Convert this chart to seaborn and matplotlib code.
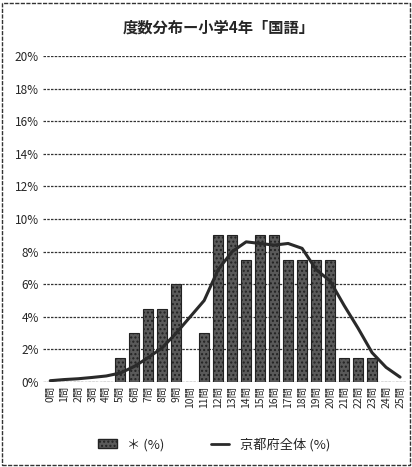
import pandas as pd
import seaborn as sns
import matplotlib.pyplot as plt
from matplotlib.lines import Line2D
from matplotlib.patches import Patch, Rectangle

# data
questions = [f"{i}問" for i in range(26)]
school_pct = [0, 0, 0, 0, 0, 1.5, 3.0, 4.5, 4.5, 6.0, 0, 3.0, 9.0, 9.0, 7.5,
              9.0, 9.0, 7.5, 7.5, 7.5, 7.5, 1.5, 1.5, 1.5, 0, 0]
kyoto_pct = [0.08, 0.15, 0.2, 0.28, 0.37, 0.55, 0.95, 1.5, 2.1, 3.0, 4.0, 5.0, 6.9,
             8.0, 8.6, 8.5, 8.4, 8.5, 8.2, 6.9, 6.2, 4.7, 3.3, 1.8, 0.9, 0.3]
y_ticks = [0, 2, 4, 6, 8, 10, 12, 14, 16, 18, 20]

df = pd.DataFrame({"q": questions, "school": school_pct, "kyoto": kyoto_pct})
df["pos"] = range(len(df))

sns.set_style("white")
plt.rcParams['font.family'] = ['Noto Sans CJK JP', 'DejaVu Sans']
plt.rcParams['hatch.color'] = "#9a9a9a"

fig = plt.figure(figsize=(4.12, 4.67), dpi=100)
ax = fig.add_axes([0.105, 0.182, 0.883, 0.698])

# gridlines behind the bars
for t in y_ticks:
    ax.axhline(t, color="#333333", lw=0.9, ls=(0, (2, 1)), zorder=0)

sns.barplot(data=df, x="q", y="school", color="#5a5a5a", width=0.72,
            edgecolor="#222222", linewidth=0.8, saturation=1, ax=ax, zorder=2)
for p in ax.patches:
    p.set_hatch("....")

sns.lineplot(data=df, x="pos", y="kyoto", color="#2a2a2a", lw=2.2, ax=ax, zorder=3)

ax.set_xlim(-0.5, 25.5)
ax.set_ylim(0, 20)
ax.set_yticks(y_ticks)
ax.set_yticklabels([f"{t}%" for t in y_ticks], fontsize=8.5)
ax.set_xticks(range(26))
ax.set_xticklabels(questions, rotation=90, fontsize=7.5)
ax.tick_params(axis="both", length=0, pad=3)
ax.set_xlabel("")
ax.set_ylabel("")
for s in ax.spines.values():
    s.set_visible(False)

fig.text(0.53, 0.94, "度数分布ー小学4年「国語」", ha="center", va="center",
         fontsize=11, fontweight="bold")

handles = [Patch(facecolor="#5a5a5a", edgecolor="#222222", hatch="...."),
           Line2D([0], [0], color="#2a2a2a", lw=2)]
fig.legend(handles, ["＊ (%)", "京都府全体 (%)"], loc="center", bbox_to_anchor=(0.52, 0.048),
           ncol=2, frameon=False, fontsize=9.5, columnspacing=3.5, handlelength=1.4)

# outer chart border
fig.patches.append(Rectangle((0.004, 0.004), 0.99, 0.99, transform=fig.transFigure,
                             fill=False, edgecolor="#333333", lw=1.0, ls=(0, (3, 1))))

fig.savefig("out.png", dpi=100)
